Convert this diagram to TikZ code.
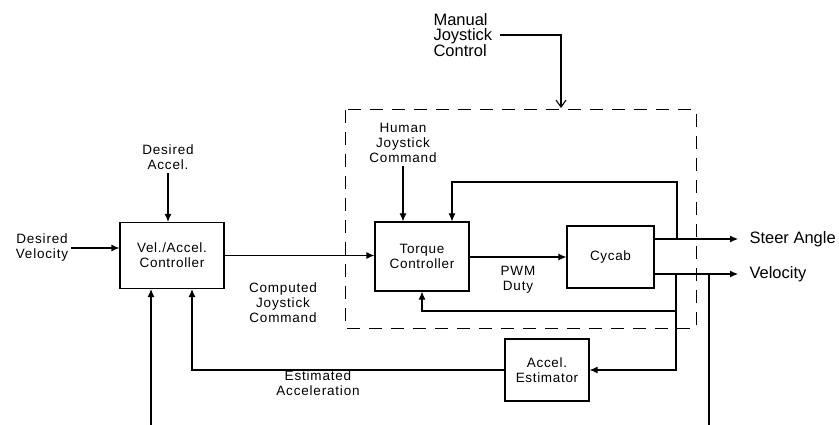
\documentclass[tikz,border=0pt]{standalone}
\usepackage{fontspec}
\setmainfont{Liberation Sans}
\usetikzlibrary{arrows.meta,positioning}
\tikzstyle{block}=[draw,line width=1.1pt,rectangle,inner sep=0pt,align=center,font=\fontsize{13.5}{15}\selectfont\addfontfeature{LetterSpace=5}]
\tikzstyle{lbl}=[inner sep=0pt,align=center,font=\fontsize{13.5}{15}\selectfont\addfontfeature{LetterSpace=6}]
\tikzstyle{biglbl}=[inner sep=0pt,font=\fontsize{16.5}{15}\selectfont]

\begin{document}
\begin{tikzpicture}[x=1pt,y=-1pt,line width=1.1pt,
        >={Latex[length=8pt,width=7pt]}]
    \useasboundingbox (0,0) rectangle (839,425);
    % blocks
    \node[block,minimum width=104pt,minimum height=66pt] (vel) at (172,255.5) {Vel./Accel.\\Controller};
    \node[block,minimum width=94pt,minimum height=69pt] (torque) at (422,256.5) {Torque\\Controller};
    \node[block,minimum width=87pt,minimum height=62pt] (cycab) at (610.5,257) {Cycab};
    \node[block,minimum width=84pt,minimum height=62pt] (accel) at (547,370) {Accel.\\Estimator};
    % manual joystick box
    \draw[dash pattern=on 13pt off 9pt,line width=1pt] (345,110) rectangle (696,328);
    \node[biglbl,align=left,anchor=west] (mjc) at (433,35) {Manual\\Joystick\\Control};
    \coordinate (mbox) at (561,108);
    \draw[-{Straight Barb[length=7pt,width=10pt]}] ([xshift=7pt]mjc.east) -| (mbox);
    % inputs
    \node[lbl] (dv) at (42,248) {Desired\\Velocity};
    \draw[->] ([xshift=2pt]dv.east) -- (dv.east -| vel.west);
    \node[lbl] (da) at (168,157) {Desired\\Accel.};
    \draw[->] ([yshift=-3pt]da.south) -- (da.south |- vel.north);
    \node[lbl] (hjc) at (403,143) {Human\\Joystick\\Command};
    \draw[->] ([yshift=-3pt]hjc.south) -- (hjc.south |- torque.north);
    % forward path
    \draw[->] (vel.east) -- (vel.east -| torque.west);
    \node[lbl] (cjc) at (283,303) {Computed\\Joystick\\Command};
    \draw[->] (torque.east |- cycab.west) -- (cycab.west);
    \node[lbl] (pwm) at (518,280) {PWM\\Duty};
    % outputs
    \coordinate (sa) at (738,239);
    \coordinate (vo) at (738,274);
    \draw[->] (cycab.east |- sa) -- (sa) node[biglbl,right=11pt] (salbl) {Steer Angle};
    \draw[->] (cycab.east |- vo) -- (vo) node[biglbl,right=11pt] (volbl) {Velocity};
    % feedback loops
    \coordinate (tap1) at (677,239);
    \coordinate (tap2) at (676,274);
    \draw[->] (tap1) -- ++(0,-57) -| ([xshift=30pt]torque.north);
    \draw[->] (tap2 |- 0,311) -| (torque.south);
    \draw[->] (tap2) |- (accel.east);
    \draw[->] (accel.west) -| ([xshift=20pt]vel.south);
    \node[lbl] (eacc) at (318,383) {Estimated\\Acceleration};
    % lines leaving the picture
    \coordinate (ext) at (151,425);
    \draw[->] (ext) -- (ext |- vel.south);
    \coordinate (vbot) at (709,425);
    \draw (vbot) -- (vbot |- vo);
\end{tikzpicture}
\end{document}
